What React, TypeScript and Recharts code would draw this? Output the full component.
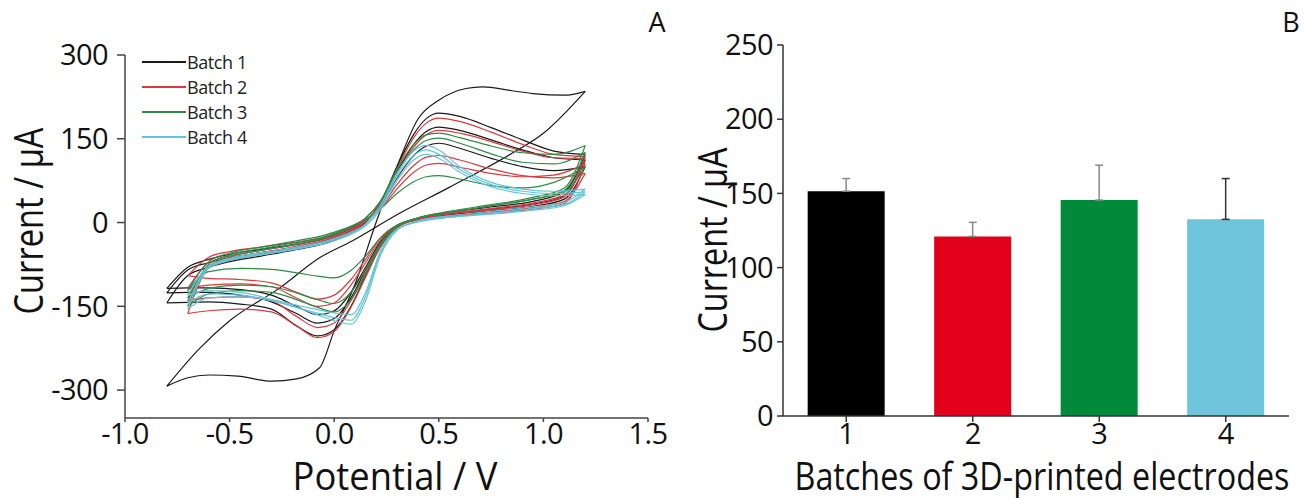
import React from 'react';
import { LineChart, Line, XAxis, YAxis, BarChart, Bar, Cell, ErrorBar } from 'recharts';

// ---------- Panel A: cyclic voltammograms (E in V, I in µA) ----------
const batchNames = ['Batch 1', 'Batch 2', 'Batch 3', 'Batch 4'];
const batchLineColors = ['#1a1a1a', '#d83a40', '#2e8a46', '#63c4d7'];

// potential grids, both sorted by potential (anodic sweep / cathodic sweep)
const anodicE7 = [-0.7, -0.6, -0.5, -0.35, -0.2, -0.05, 0.05, 0.15, 0.22, 0.3, 0.38, 0.44, 0.5, 0.6, 0.75, 0.9, 1.05, 1.2];
const cathodicE7 = [-0.7, -0.6, -0.45, -0.3, -0.18, -0.08, 0.0, 0.08, 0.15, 0.22, 0.3, 0.4, 0.55, 0.75, 0.95, 1.1, 1.2];
const anodicE8 = [-0.8, -0.7, -0.6, -0.5, -0.35, -0.2, -0.05, 0.05, 0.15, 0.22, 0.3, 0.38, 0.44, 0.5, 0.6, 0.75, 0.9, 1.05, 1.2];
const cathodicE8 = [-0.8, -0.7, -0.6, -0.45, -0.3, -0.18, -0.08, 0.0, 0.08, 0.15, 0.22, 0.3, 0.4, 0.55, 0.75, 0.95, 1.1, 1.2];

// batch 1 outlier electrode (large resistive loop)
const b1BigAnodicE = [-0.8, -0.7, -0.6, -0.46, -0.3, -0.18, -0.07, 0.0, 0.1, 0.2, 0.3, 0.4, 0.5, 0.63, 0.71, 0.85, 0.95, 1.1, 1.2];
const b1BigAnodic = [-293, -278, -273, -275, -284, -280, -260, -194, -110, 0, 100, 185, 219, 240, 243, 236, 231, 228, 235];
const b1BigCathodicE = [-0.8, -0.65, -0.5, -0.26, -0.07, 0.09, 0.3, 0.55, 0.85, 1.0, 1.2];
const b1BigCathodic = [-293, -228, -176, -117, -63, -32, 14, 63, 124, 160, 235];

// batch 1 (black)
const b1aAnodic = [-144, -95, -80, -70, -60, -50, -38, -24, 0, 35, 100, 158, 186, 196, 190, 170, 148, 128, 122];
const b1aCathodic = [-144, -143, -142, -146, -155, -185, -203, -192, -150, -95, -42, -8, 8, 18, 28, 38, 55, 122];
const b1bAnodic = [-126, -85, -72, -63, -54, -45, -33, -20, 2, 32, 90, 140, 163, 171, 165, 148, 130, 116, 112];
const b1bCathodic = [-126, -125, -125, -130, -142, -163, -180, -172, -135, -85, -38, -6, 7, 16, 24, 33, 48, 112];
const b1cAnodic = [-118, -80, -66, -57, -48, -40, -29, -16, 4, 30, 80, 120, 137, 142, 133, 115, 100, 93, 100];
const b1cCathodic = [-118, -117, -117, -120, -130, -150, -165, -158, -125, -80, -35, -5, 6, 14, 21, 29, 42, 100];

// batch 2 (red)
const b2aAnodic = [-163, -82, -68, -57, -47, -35, -22, 2, 34, 96, 152, 178, 187, 181, 162, 140, 122, 118];
const b2aCathodic = [-163, -158, -155, -160, -185, -206, -195, -152, -98, -45, -10, 6, 16, 25, 35, 50, 118];
const b2bAnodic = [-140, -78, -64, -54, -44, -32, -19, 3, 32, 88, 135, 157, 165, 160, 145, 128, 116, 115];
const b2bCathodic = [-140, -135, -133, -140, -168, -188, -180, -140, -90, -40, -8, 6, 15, 23, 32, 46, 115];
const b2cAnodic = [-118, -72, -60, -50, -41, -30, -17, 3, 26, 68, 102, 117, 120, 112, 96, 84, 80, 88];
const b2cCathodic = [-118, -112, -110, -115, -135, -150, -144, -112, -72, -32, -6, 5, 12, 19, 27, 38, 88];
const b2dAnodic = [-95, -62, -52, -44, -36, -26, -14, 4, 24, 60, 90, 103, 106, 99, 88, 82, 85, 105];
const b2dCathodic = [-95, -100, -102, -108, -125, -137, -130, -102, -66, -28, -5, 4, 11, 17, 24, 34, 105];

// batch 3 (green)
const b3aAnodic = [-150, -80, -62, -50, -40, -28, -14, 8, 38, 95, 140, 157, 160, 152, 137, 125, 122, 138];
const b3aCathodic = [-150, -128, -122, -125, -138, -152, -160, -138, -92, -42, -8, 8, 20, 32, 45, 62, 138];
const b3bAnodic = [-135, -75, -58, -47, -37, -26, -12, 8, 36, 88, 130, 147, 151, 142, 123, 108, 105, 126];
const b3bCathodic = [-135, -118, -112, -115, -126, -138, -145, -125, -84, -38, -7, 8, 18, 30, 42, 58, 126];
const b3cAnodic = [-122, -70, -55, -44, -34, -23, -11, 6, 24, 52, 73, 82, 84, 78, 66, 62, 72, 100];
const b3cCathodic = [-122, -88, -82, -84, -90, -96, -99, -86, -60, -28, -5, 8, 18, 30, 42, 55, 100];

// batch 4 (cyan)
const b4aAnodic = [-130, -78, -64, -54, -45, -34, -22, -2, 30, 88, 128, 138, 130, 100, 72, 60, 56, 60];
const b4aCathodic = [-130, -122, -125, -138, -152, -165, -176, -182, -140, -60, -14, 3, 12, 20, 28, 36, 60];
const b4bAnodic = [-145, -80, -66, -56, -47, -36, -24, -4, 26, 82, 120, 130, 122, 95, 68, 56, 52, 55];
const b4bCathodic = [-145, -128, -130, -140, -152, -162, -170, -175, -132, -55, -13, 2, 10, 17, 25, 32, 55];
const b4cAnodic = [-155, -82, -68, -58, -49, -38, -26, -6, 22, 75, 112, 122, 115, 90, 64, 52, 48, 50];
const b4cCathodic = [-155, -135, -133, -138, -148, -156, -162, -165, -125, -52, -12, 1, 9, 15, 22, 30, 50];

const cvTicksX = [-1, -0.5, 0, 0.5, 1, 1.5];
const cvTicksY = [300, 150, 0, -150, -300];

// ---------- Panel B: peak current per batch ----------
const batchLabels = ['1', '2', '3', '4'];
const peakCurrent = [151.5, 121, 145.5, 132.5];
const peakCurrentSD = [8.5, 9.5, 23.5, 27.5];
const barColors = ['#000000', '#e2001a', '#008a3a', '#6ec4da'];
const errorDark = [false, false, false, true];
const barTicksY = [0, 50, 100, 150, 200, 250];

type Loop = { batch: number; aE: number[]; a: number[]; cE: number[]; c: number[] };

const loops: Loop[] = [
  { batch: 0, aE: b1BigAnodicE, a: b1BigAnodic, cE: b1BigCathodicE, c: b1BigCathodic },
  { batch: 0, aE: anodicE8, a: b1aAnodic, cE: cathodicE8, c: b1aCathodic },
  { batch: 0, aE: anodicE8, a: b1bAnodic, cE: cathodicE8, c: b1bCathodic },
  { batch: 0, aE: anodicE8, a: b1cAnodic, cE: cathodicE8, c: b1cCathodic },
  { batch: 1, aE: anodicE7, a: b2aAnodic, cE: cathodicE7, c: b2aCathodic },
  { batch: 1, aE: anodicE7, a: b2bAnodic, cE: cathodicE7, c: b2bCathodic },
  { batch: 1, aE: anodicE7, a: b2cAnodic, cE: cathodicE7, c: b2cCathodic },
  { batch: 1, aE: anodicE7, a: b2dAnodic, cE: cathodicE7, c: b2dCathodic },
  { batch: 2, aE: anodicE7, a: b3aAnodic, cE: cathodicE7, c: b3aCathodic },
  { batch: 2, aE: anodicE7, a: b3bAnodic, cE: cathodicE7, c: b3bCathodic },
  { batch: 2, aE: anodicE7, a: b3cAnodic, cE: cathodicE7, c: b3cCathodic },
  { batch: 3, aE: anodicE7, a: b4aAnodic, cE: cathodicE7, c: b4aCathodic },
  { batch: 3, aE: anodicE7, a: b4bAnodic, cE: cathodicE7, c: b4bCathodic },
  { batch: 3, aE: anodicE7, a: b4cAnodic, cE: cathodicE7, c: b4cCathodic },
];

const toPoints = (E: number[], I: number[]) => E.map((e, i) => ({ E: e, I: I[i] }));

const barData = batchLabels.map((b, i) => ({
  batch: b,
  current: peakCurrent[i],
  errLight: errorDark[i] ? null : [0, peakCurrentSD[i]],
  errDark: errorDark[i] ? [0, peakCurrentSD[i]] : null,
}));

const FONT = "'Open Sans', 'Noto Sans', sans-serif";
const tickStyle = { fontFamily: FONT, fontSize: 29, fill: '#111', letterSpacing: -0.6 };

const fmt1 = (v: number) => v.toFixed(1);

const App: React.FC = () => {
  return (
    <div style={{ position: 'absolute', left: 0, top: 0, width: 1304, height: 498, background: '#fff' }}>
      {/* A */}
      <div style={{ position: 'absolute', left: 0, top: 0 }}>
        <LineChart width={680} height={498} margin={{ top: 55, right: 32, bottom: 0, left: 0 }}>
          <XAxis
            dataKey="E"
            type="number"
            domain={[-1, 1.5]}
            ticks={cvTicksX}
            tickFormatter={fmt1}
            allowDataOverflow
            height={80}
            tickSize={4}
            tickMargin={1}
            tick={tickStyle}
            axisLine={{ stroke: '#444', strokeWidth: 1.5 }}
            tickLine={{ stroke: '#444', strokeWidth: 1.5 }}
          />
          <YAxis
            type="number"
            domain={[-350, 300]}
            ticks={cvTicksY}
            allowDataOverflow
            width={125}
            tickSize={8}
            tickMargin={9}
            tick={tickStyle}
            axisLine={{ stroke: '#444', strokeWidth: 1.5 }}
            tickLine={{ stroke: '#444', strokeWidth: 1.5 }}
          />
          {loops.map((l, k) => [
            <Line
              key={`a${k}`}
              data={toPoints(l.aE, l.a)}
              dataKey="I"
              type="monotone"
              stroke={batchLineColors[l.batch]}
              strokeWidth={1.2}
              dot={false}
              activeDot={false}
              isAnimationActive={false}
            />,
            <Line
              key={`c${k}`}
              data={toPoints(l.cE, l.c)}
              dataKey="I"
              type="monotone"
              stroke={batchLineColors[l.batch]}
              strokeWidth={1.2}
              dot={false}
              activeDot={false}
              isAnimationActive={false}
            />,
          ])}
        </LineChart>
      </div>

      {/* legend of A */}
      <div style={{ position: 'absolute', left: 142, top: 50 }}>
        {batchNames.map((name, i) => (
          <div key={name} style={{ display: 'flex', alignItems: 'center', height: 24.8 }}>
            <div style={{ width: 44, height: 2, background: batchLineColors[i] }} />
            <span style={{ fontFamily: FONT, fontSize: 18, color: '#222', marginLeft: 1, letterSpacing: -0.4 }}>{name}</span>
          </div>
        ))}
      </div>

      {/* B */}
      <div style={{ position: 'absolute', left: 680, top: 0 }}>
        <BarChart width={624} height={498} data={barData} margin={{ top: 45, right: 15, bottom: 0, left: 0 }} barCategoryGap="19.5%">
          <XAxis
            dataKey="batch"
            height={82}
            tickSize={6}
            tickMargin={1}
            tick={tickStyle}
            axisLine={{ stroke: '#333', strokeWidth: 1.5 }}
            tickLine={{ stroke: '#333', strokeWidth: 1.5 }}
          />
          <YAxis
            type="number"
            domain={[0, 250]}
            ticks={barTicksY}
            width={103}
            tickSize={6}
            tickMargin={4}
            tick={tickStyle}
            axisLine={{ stroke: '#333', strokeWidth: 1.5 }}
            tickLine={{ stroke: '#333', strokeWidth: 1.5 }}
          />
          <Bar dataKey="current" isAnimationActive={false}>
            {barData.map((d, i) => (
              <Cell key={d.batch} fill={barColors[i]} />
            ))}
            <ErrorBar dataKey="errLight" direction="y" width={4} stroke="#8a8a8a" strokeWidth={1.5} />
            <ErrorBar dataKey="errDark" direction="y" width={4} stroke="#333" strokeWidth={1.5} />
          </Bar>
        </BarChart>
      </div>

      {/* titles */}
      <svg width={1304} height={498} style={{ position: 'absolute', left: 0, top: 0, pointerEvents: 'none' }}>
        <g fontFamily={FONT} fill="#111">
          <text x={43} y={221} fontSize={40} textAnchor="middle" transform="rotate(-90 43 221)" textLength={187} lengthAdjust="spacingAndGlyphs">
            Current / μA
          </text>
          <text x={395} y={490} fontSize={39} textAnchor="middle" textLength={205} lengthAdjust="spacingAndGlyphs">
            Potential / V
          </text>
          <text x={727} y={240} fontSize={40} textAnchor="middle" transform="rotate(-90 727 240)" textLength={185} lengthAdjust="spacingAndGlyphs">
            Current / μA
          </text>
          <text x={1042} y={490} fontSize={39} textAnchor="middle" textLength={495} lengthAdjust="spacingAndGlyphs">
            Batches of 3D-printed electrodes
          </text>
          <text x={657} y={32} fontSize={27} textAnchor="middle">A</text>
          <text x={1291} y={32} fontSize={27} textAnchor="middle">B</text>
        </g>
      </svg>
    </div>
  );
};

export default App;
